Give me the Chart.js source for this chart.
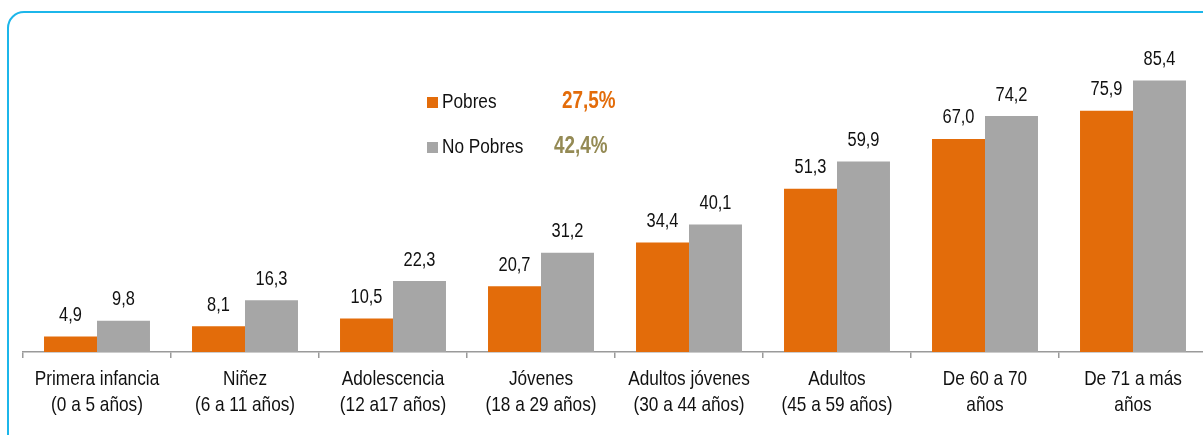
<!DOCTYPE html>
<html>
<head>
<meta charset="utf-8">
<script src="https://cdn.jsdelivr.net/npm/chart.js@4/dist/chart.umd.min.js"></script>
<style>
  html, body { margin: 0; padding: 0; background: #fff; overflow: hidden; }
  #wrap { position: relative; width: 1203px; height: 435px; overflow: hidden; }
  #frame {
    position: absolute; left: 7px; top: 11px; width: 1300px; height: 500px;
    border: 2px solid #1cb6ea; border-radius: 17px; box-sizing: border-box;
  }
  #box { position: absolute; left: 0; top: 0; width: 1215px; height: 435px; }
</style>
</head>
<body>
<div id="wrap">
  <div id="frame"></div>
  <div id="box"><canvas id="myChart"></canvas></div>
</div>
<script>
// data
const categories = [
  ['Primera infancia', '(0 a 5 años)'],
  ['Niñez', '(6 a 11 años)'],
  ['Adolescencia', '(12 a17 años)'],
  ['Jóvenes', '(18 a 29 años)'],
  ['Adultos jóvenes', '(30 a 44 años)'],
  ['Adultos', '(45 a 59 años)'],
  ['De 60 a 70', 'años'],
  ['De 71 a más', 'años']
];
const pobres = [4.9, 8.1, 10.5, 20.7, 34.4, 51.3, 67.0, 75.9];
const noPobres = [9.8, 16.3, 22.3, 31.2, 40.1, 59.9, 74.2, 85.4];
const totals = ['27,5%', '42,4%'];

const FONT = '"Liberation Sans", Arial, sans-serif';
const NARROW = 0.82; // the original uses Arial Narrow

function fmt(v) {
  return v.toFixed(1).replace('.', ',');
}

// draw condensed text
function narrowText(ctx, text, x, y) {
  ctx.save();
  ctx.translate(x, y);
  ctx.scale(NARROW, 1);
  ctx.fillText(text, 0, 0);
  ctx.restore();
}

// category labels under the axis
const categoryLabels = {
  id: 'categoryLabels',
  afterDraw(chart) {
    const ctx = chart.ctx;
    const xScale = chart.scales.x;
    ctx.save();
    ctx.font = '21px ' + FONT;
    ctx.fillStyle = '#111';
    ctx.textAlign = 'center';
    ctx.textBaseline = 'middle';
    chart.data.labels.forEach(function(lines, i) {
      const x = xScale.getPixelForTick(i);
      lines.forEach(function(line, k) {
        narrowText(ctx, line, x, xScale.top + 27 + k * 26);
      });
    });
    ctx.restore();
  }
};

// value labels above bars
const valueLabels = {
  id: 'valueLabels',
  afterDatasetsDraw(chart) {
    const ctx = chart.ctx;
    ctx.save();
    ctx.font = '20px ' + FONT;
    ctx.fillStyle = '#111';
    ctx.textAlign = 'center';
    ctx.textBaseline = 'bottom';
    chart.data.datasets.forEach(function(ds, i) {
      chart.getDatasetMeta(i).data.forEach(function(bar, j) {
        narrowText(ctx, fmt(ds.data[j]), bar.x, bar.y - 11);
      });
    });
    ctx.restore();
  }
};

// legend with totals
const customLegend = {
  id: 'customLegend',
  afterDraw(chart) {
    const ctx = chart.ctx;
    const totalColors = ['#e36c0a', '#948a54'];
    const totalX = [562, 554];
    ctx.save();
    chart.data.datasets.forEach(function(ds, i) {
      const y = 102 + i * 45;
      ctx.fillStyle = ds.backgroundColor;
      ctx.fillRect(427, y - 5, 11, 11);
      ctx.fillStyle = '#111';
      ctx.font = '21px ' + FONT;
      ctx.textAlign = 'left';
      ctx.textBaseline = 'middle';
      narrowText(ctx, ds.label, 442, y);
      ctx.fillStyle = totalColors[i];
      ctx.font = 'bold 23px ' + FONT;
      narrowText(ctx, totals[i], totalX[i], y);
    });
    ctx.restore();
  }
};

var ctx = document.getElementById('myChart').getContext('2d');

// eslint-disable-next-line no-unused-vars
var chart = new Chart(ctx, {
  type: 'bar',
  data: {
    labels: categories,
    datasets: [{
      label: 'Pobres',
      backgroundColor: '#e36c0a',
      data: pobres,
    },
    {
      label: 'No Pobres',
      backgroundColor: '#a6a6a6',
      data: noPobres,
    }]
  },
  options: {
    responsive: true,
    maintainAspectRatio: false,
    animation: false,
    layout: { padding: { left: 23, top: 34, right: 8, bottom: 0 } },
    datasets: {
      bar: { categoryPercentage: 0.716, barPercentage: 1.0 }
    },
    plugins: {
      legend: { display: false },
      tooltip: { enabled: false }
    },
    scales: {
      x: {
        afterFit: function(scale) { scale.height = 83; },
        grid: {
          display: true,
          drawOnChartArea: false,
          offset: true,
          color: '#9a9a9a',
          lineWidth: 1.5,
          tickLength: 6
        },
        border: { display: true, color: '#9a9a9a', width: 1.5 },
        ticks: { display: false }
      },
      y: {
        display: false,
        min: 0,
        max: 100
      }
    }
  },
  plugins: [valueLabels, categoryLabels, customLegend]
});
</script>
</body>
</html>
